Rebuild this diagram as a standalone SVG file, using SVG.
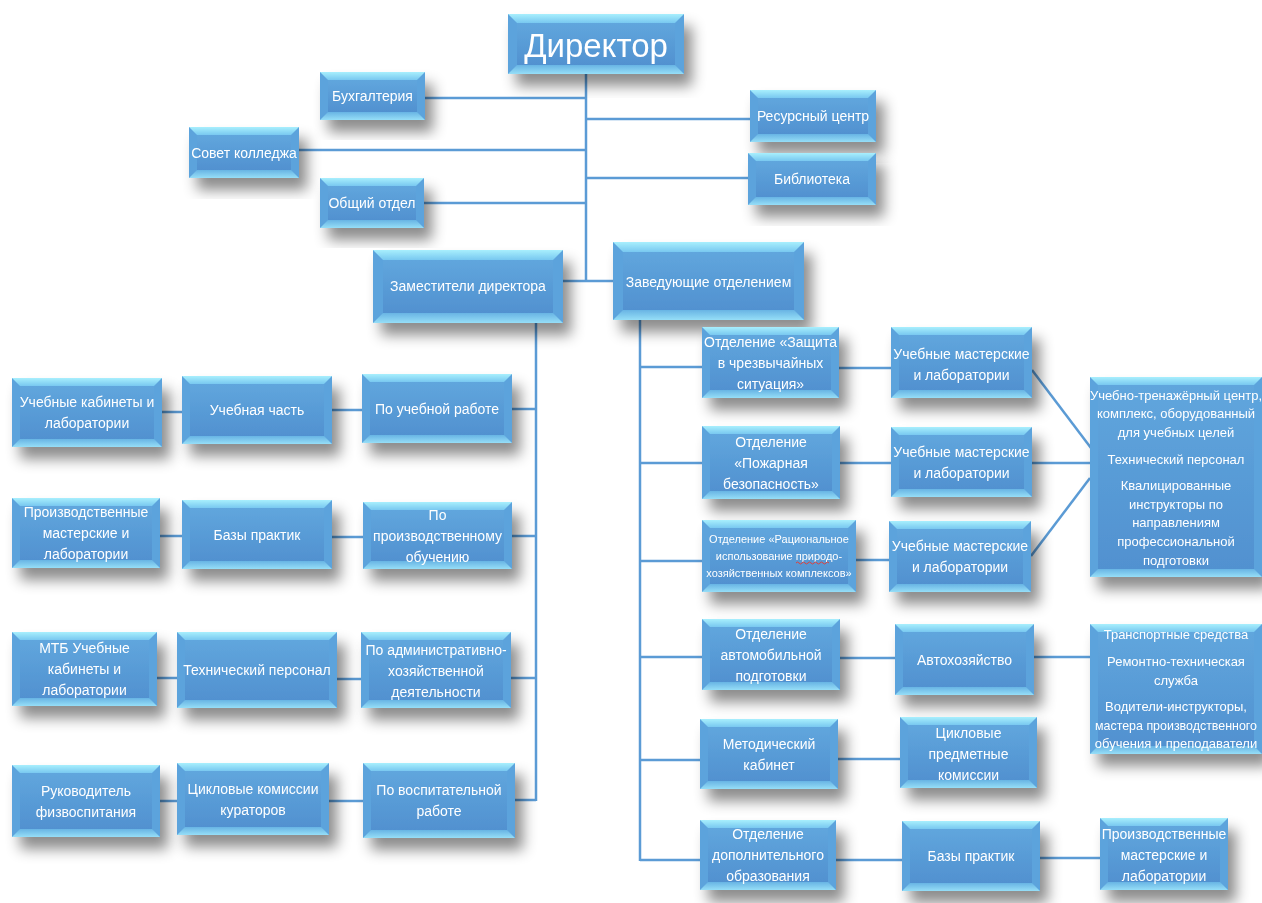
<svg xmlns="http://www.w3.org/2000/svg" width="1262" height="903" viewBox="0 0 1262 903">
<defs>
<filter id="sh" x="-20%" y="-20%" width="150%" height="160%">
<feDropShadow dx="8" dy="12" stdDeviation="7" flood-color="#000" flood-opacity="0.45"/>
</filter>
<linearGradient id="gf" x1="0" y1="0" x2="0" y2="1">
<stop offset="0" stop-color="#60a6dd"/>
<stop offset="1" stop-color="#5191d0"/>
</linearGradient>
<linearGradient id="gt" x1="0" y1="0" x2="0" y2="1">
<stop offset="0" stop-color="#a8effd"/>
<stop offset="1" stop-color="#78c8f0"/>
</linearGradient>
<linearGradient id="gb" x1="0" y1="0" x2="0" y2="1">
<stop offset="0" stop-color="#68b4e4"/>
<stop offset="1" stop-color="#96def7"/>
</linearGradient>
</defs>
<style>
.n{filter:url(#sh)}
.s{fill:#5ba3dc}
.t{fill:url(#gt)}
.b{fill:url(#gb)}
.f{fill:url(#gf)}
text{font-family:"Liberation Sans","Noto Sans",Arial,sans-serif;fill:#fff;font-size:14px;text-anchor:middle}
.sm{font-size:13px}
.xs{font-size:11px}
.big{font-size:33px}
.c line{stroke:#5b9bd5;stroke-width:2.5;fill:none}
</style>
<rect width="1262" height="903" fill="#fff"/>
<g id="connectors" class="c">
<line x1="586" y1="74" x2="586" y2="282"/>
<line x1="425" y1="98" x2="586" y2="98"/>
<line x1="299" y1="150" x2="586" y2="150"/>
<line x1="424" y1="203" x2="586" y2="203"/>
<line x1="586" y1="119" x2="750" y2="119"/>
<line x1="586" y1="178" x2="748" y2="178"/>
<line x1="563" y1="281" x2="613" y2="281"/>
<line x1="536" y1="323" x2="536" y2="801"/>
<line x1="162" y1="412" x2="182" y2="412"/>
<line x1="332" y1="410" x2="362" y2="410"/>
<line x1="512" y1="409" x2="536" y2="409"/>
<line x1="160" y1="536" x2="182" y2="536"/>
<line x1="332" y1="537" x2="363" y2="537"/>
<line x1="512" y1="536" x2="536" y2="536"/>
<line x1="157" y1="678" x2="177" y2="678"/>
<line x1="337" y1="679" x2="361" y2="679"/>
<line x1="511" y1="678" x2="536" y2="678"/>
<line x1="160" y1="801" x2="177" y2="801"/>
<line x1="329" y1="801" x2="363" y2="801"/>
<line x1="515" y1="800" x2="536" y2="800"/>
<line x1="640" y1="320" x2="640" y2="861"/>
<line x1="640" y1="367" x2="702" y2="367"/>
<line x1="640" y1="463" x2="702" y2="463"/>
<line x1="640" y1="561" x2="702" y2="561"/>
<line x1="640" y1="657" x2="702" y2="657"/>
<line x1="640" y1="760" x2="700" y2="760"/>
<line x1="640" y1="860" x2="700" y2="860"/>
<line x1="839" y1="368" x2="891" y2="368"/>
<line x1="840" y1="463" x2="891" y2="463"/>
<line x1="856" y1="560" x2="889" y2="560"/>
<line x1="840" y1="658" x2="895" y2="658"/>
<line x1="838" y1="759" x2="900" y2="759"/>
<line x1="836" y1="860" x2="902" y2="860"/>
<line x1="1032" y1="370" x2="1091" y2="448"/>
<line x1="1032" y1="463" x2="1090" y2="463"/>
<line x1="1031" y1="556" x2="1090" y2="478"/>
<line x1="1034" y1="657" x2="1090" y2="657"/>
<line x1="1040" y1="858" x2="1100" y2="858"/>
</g>

<g id="n-director" class="n"><rect class="s" x="508" y="14" width="176" height="60"/><polygon class="t" points="508,14 684,14 675,23 517,23"/><polygon class="b" points="508,74 684,74 675,65 517,65"/><rect class="f" x="517" y="23" width="158" height="42"/><text class="big" x="596" y="57">Директор</text></g>
<g id="n-buh" class="n"><rect class="s" x="320" y="72" width="105" height="48"/><polygon class="t" points="320,72 425,72 417,80 328,80"/><polygon class="b" points="320,120 425,120 417,112 328,112"/><rect class="f" x="328" y="80" width="89" height="32"/><text x="372.5" y="101">Бухгалтерия</text></g>
<g id="n-sovet" class="n"><rect class="s" x="189" y="127" width="110" height="51"/><polygon class="t" points="189,127 299,127 291,135 197,135"/><polygon class="b" points="189,178 299,178 291,170 197,170"/><rect class="f" x="197" y="135" width="94" height="35"/><text x="244" y="157.5">Совет колледжа</text></g>
<g id="n-obsh" class="n"><rect class="s" x="320" y="178" width="104" height="50"/><polygon class="t" points="320,178 424,178 416,186 328,186"/><polygon class="b" points="320,228 424,228 416,220 328,220"/><rect class="f" x="328" y="186" width="88" height="34"/><text x="372" y="208">Общий отдел</text></g>
<g id="n-res" class="n"><rect class="s" x="750" y="90" width="126" height="52"/><polygon class="t" points="750,90 876,90 868,98 758,98"/><polygon class="b" points="750,142 876,142 868,134 758,134"/><rect class="f" x="758" y="98" width="110" height="36"/><text x="813" y="121">Ресурсный центр</text></g>
<g id="n-bib" class="n"><rect class="s" x="748" y="153" width="128" height="52"/><polygon class="t" points="748,153 876,153 868,161 756,161"/><polygon class="b" points="748,205 876,205 868,197 756,197"/><rect class="f" x="756" y="161" width="112" height="36"/><text x="812" y="184">Библиотека</text></g>
<g id="n-zam" class="n"><rect class="s" x="373" y="250" width="190" height="73"/><polygon class="t" points="373,250 563,250 553,260 383,260"/><polygon class="b" points="373,323 563,323 553,313 383,313"/><rect class="f" x="383" y="260" width="170" height="53"/><text x="468" y="291">Заместители директора</text></g>
<g id="n-zav" class="n"><rect class="s" x="613" y="242" width="191" height="78"/><polygon class="t" points="613,242 804,242 794,252 623,252"/><polygon class="b" points="613,320 804,320 794,310 623,310"/><rect class="f" x="623" y="252" width="171" height="58"/><text x="708.5" y="287">Заведующие отделением</text></g>

<g id="n-ukl" class="n"><rect class="s" x="12" y="378" width="150" height="69"/><polygon class="t" points="12,378 162,378 154,386 20,386"/><polygon class="b" points="12,447 162,447 154,439 20,439"/><rect class="f" x="20" y="386" width="134" height="53"/><text x="87" y="407">Учебные кабинеты и</text><text x="87" y="428">лаборатории</text></g>
<g id="n-uch" class="n"><rect class="s" x="182" y="376" width="150" height="68"/><polygon class="t" points="182,376 332,376 324,384 190,384"/><polygon class="b" points="182,444 332,444 324,436 190,436"/><rect class="f" x="190" y="384" width="134" height="52"/><text x="257" y="415">Учебная часть</text></g>
<g id="n-pur" class="n"><rect class="s" x="362" y="374" width="150" height="69"/><polygon class="t" points="362,374 512,374 504,382 370,382"/><polygon class="b" points="362,443 512,443 504,435 370,435"/><rect class="f" x="370" y="382" width="134" height="53"/><text x="437" y="413.5">По учебной работе</text></g>

<g id="n-pml" class="n"><rect class="s" x="12" y="498" width="148" height="70"/><polygon class="t" points="12,498 160,498 152,506 20,506"/><polygon class="b" points="12,568 160,568 152,560 20,560"/><rect class="f" x="20" y="506" width="132" height="54"/><text x="86" y="517">Производственные</text><text x="86" y="538">мастерские и</text><text x="86" y="559">лаборатории</text></g>
<g id="n-bp1" class="n"><rect class="s" x="182" y="500" width="150" height="69"/><polygon class="t" points="182,500 332,500 324,508 190,508"/><polygon class="b" points="182,569 332,569 324,561 190,561"/><rect class="f" x="190" y="508" width="134" height="53"/><text x="257" y="539.5">Базы практик</text></g>
<g id="n-ppo" class="n"><rect class="s" x="363" y="502" width="149" height="67"/><polygon class="t" points="363,502 512,502 504,510 371,510"/><polygon class="b" points="363,569 512,569 504,561 371,561"/><rect class="f" x="371" y="510" width="133" height="51"/><text x="437.5" y="520">По</text><text x="437.5" y="541">производственному</text><text x="437.5" y="562">обучению</text></g>

<g id="n-mtb" class="n"><rect class="s" x="12" y="632" width="145" height="74"/><polygon class="t" points="12,632 157,632 149,640 20,640"/><polygon class="b" points="12,706 157,706 149,698 20,698"/><rect class="f" x="20" y="640" width="129" height="58"/><text x="84.5" y="653">МТБ Учебные</text><text x="84.5" y="674">кабинеты и</text><text x="84.5" y="695">лаборатории</text></g>
<g id="n-tp1" class="n"><rect class="s" x="177" y="632" width="160" height="76"/><polygon class="t" points="177,632 337,632 329,640 185,640"/><polygon class="b" points="177,708 337,708 329,700 185,700"/><rect class="f" x="185" y="640" width="144" height="60"/><text x="257" y="675">Технический персонал</text></g>
<g id="n-pah" class="n"><rect class="s" x="361" y="632" width="150" height="76"/><polygon class="t" points="361,632 511,632 503,640 369,640"/><polygon class="b" points="361,708 511,708 503,700 369,700"/><rect class="f" x="369" y="640" width="134" height="60"/><text x="436" y="655">По административно-</text><text x="436" y="676">хозяйственной</text><text x="436" y="697">деятельности</text></g>

<g id="n-ruk" class="n"><rect class="s" x="12" y="765" width="148" height="72"/><polygon class="t" points="12,765 160,765 152,773 20,773"/><polygon class="b" points="12,837 160,837 152,829 20,829"/><rect class="f" x="20" y="773" width="132" height="56"/><text x="86" y="796">Руководитель</text><text x="86" y="817">физвоспитания</text></g>
<g id="n-ckk" class="n"><rect class="s" x="177" y="763" width="152" height="72"/><polygon class="t" points="177,763 329,763 321,771 185,771"/><polygon class="b" points="177,835 329,835 321,827 185,827"/><rect class="f" x="185" y="771" width="136" height="56"/><text x="253" y="794">Цикловые комиссии</text><text x="253" y="815">кураторов</text></g>
<g id="n-pvr" class="n"><rect class="s" x="363" y="763" width="152" height="75"/><polygon class="t" points="363,763 515,763 507,771 371,771"/><polygon class="b" points="363,838 515,838 507,830 371,830"/><rect class="f" x="371" y="771" width="136" height="59"/><text x="439" y="795">По воспитательной</text><text x="439" y="816">работе</text></g>

<g id="n-zch" class="n"><rect class="s" x="702" y="327" width="137" height="71"/><polygon class="t" points="702,327 839,327 831,335 710,335"/><polygon class="b" points="702,398 839,398 831,390 710,390"/><rect class="f" x="710" y="335" width="121" height="55"/><text x="770.5" y="347">Отделение «Защита</text><text x="770.5" y="368">в чрезвычайных</text><text x="770.5" y="389">ситуация»</text></g>
<g id="n-pb" class="n"><rect class="s" x="702" y="426" width="138" height="73"/><polygon class="t" points="702,426 840,426 832,434 710,434"/><polygon class="b" points="702,499 840,499 832,491 710,491"/><rect class="f" x="710" y="434" width="122" height="57"/><text x="771" y="447">Отделение</text><text x="771" y="468">«Пожарная</text><text x="771" y="489">безопасность»</text></g>
<g id="n-rac" class="n"><rect class="s" x="702" y="520" width="154" height="72"/><polygon class="t" points="702,520 856,520 848,528 710,528"/><polygon class="b" points="702,592 856,592 848,584 710,584"/><rect class="f" x="710" y="528" width="138" height="56"/><text class="xs" x="779" y="543">Отделение «Рациональное</text><text class="xs" x="779" y="560">использование природо-</text><text class="xs" x="779" y="577">хозяйственных комплексов»</text><path d="M796,563 q1.5,-2 3,0 t3,0 t3,0 t3,0 t3,0 t3,0 t3,0 t3,0 t3,0 t3,0 t3,0" stroke="#e0403a" stroke-width="1" fill="none"/></g>
<g id="n-avt" class="n"><rect class="s" x="702" y="619" width="138" height="71"/><polygon class="t" points="702,619 840,619 832,627 710,627"/><polygon class="b" points="702,690 840,690 832,682 710,682"/><rect class="f" x="710" y="627" width="122" height="55"/><text x="771" y="639">Отделение</text><text x="771" y="660">автомобильной</text><text x="771" y="681">подготовки</text></g>
<g id="n-met" class="n"><rect class="s" x="700" y="719" width="138" height="70"/><polygon class="t" points="700,719 838,719 830,727 708,727"/><polygon class="b" points="700,789 838,789 830,781 708,781"/><rect class="f" x="708" y="727" width="122" height="54"/><text x="769" y="749">Методический</text><text x="769" y="770">кабинет</text></g>
<g id="n-dop" class="n"><rect class="s" x="700" y="820" width="136" height="70"/><polygon class="t" points="700,820 836,820 828,828 708,828"/><polygon class="b" points="700,890 836,890 828,882 708,882"/><rect class="f" x="708" y="828" width="120" height="54"/><text x="768" y="839">Отделение</text><text x="768" y="860">дополнительного</text><text x="768" y="881">образования</text></g>

<g id="n-um1" class="n"><rect class="s" x="891" y="327" width="141" height="71"/><polygon class="t" points="891,327 1032,327 1024,335 899,335"/><polygon class="b" points="891,398 1032,398 1024,390 899,390"/><rect class="f" x="899" y="335" width="125" height="55"/><text x="961.5" y="359">Учебные мастерские</text><text x="961.5" y="380">и лаборатории</text></g>
<g id="n-um2" class="n"><rect class="s" x="891" y="427" width="141" height="70"/><polygon class="t" points="891,427 1032,427 1024,435 899,435"/><polygon class="b" points="891,497 1032,497 1024,489 899,489"/><rect class="f" x="899" y="435" width="125" height="54"/><text x="961.5" y="457">Учебные мастерские</text><text x="961.5" y="478">и лаборатории</text></g>
<g id="n-um3" class="n"><rect class="s" x="889" y="521" width="142" height="71"/><polygon class="t" points="889,521 1031,521 1023,529 897,529"/><polygon class="b" points="889,592 1031,592 1023,584 897,584"/><rect class="f" x="897" y="529" width="126" height="55"/><text x="960" y="551">Учебные мастерские</text><text x="960" y="572">и лаборатории</text></g>
<g id="n-ahz" class="n"><rect class="s" x="895" y="624" width="139" height="71"/><polygon class="t" points="895,624 1034,624 1026,632 903,632"/><polygon class="b" points="895,695 1034,695 1026,687 903,687"/><rect class="f" x="903" y="632" width="123" height="55"/><text x="964.5" y="665">Автохозяйство</text></g>
<g id="n-cpk" class="n"><rect class="s" x="900" y="717" width="137" height="71"/><polygon class="t" points="900,717 1037,717 1029,725 908,725"/><polygon class="b" points="900,788 1037,788 1029,780 908,780"/><rect class="f" x="908" y="725" width="121" height="55"/><text x="968.5" y="738">Цикловые</text><text x="968.5" y="759">предметные</text><text x="968.5" y="780">комиссии</text></g>
<g id="n-bp2" class="n"><rect class="s" x="902" y="821" width="138" height="70"/><polygon class="t" points="902,821 1040,821 1032,829 910,829"/><polygon class="b" points="902,891 1040,891 1032,883 910,883"/><rect class="f" x="910" y="829" width="122" height="54"/><text x="971" y="861">Базы практик</text></g>

<g id="n-utc" class="n"><rect class="s" x="1090" y="377" width="172" height="200"/><polygon class="t" points="1090,377 1262,377 1254,385 1098,385"/><polygon class="b" points="1090,577 1262,577 1254,569 1098,569"/><rect class="f" x="1098" y="385" width="156" height="184"/><text class="sm" x="1176" y="400">Учебно-тренажёрный центр,</text><text class="sm" x="1176" y="418">комплекс, оборудованный</text><text class="sm" x="1176" y="437">для учебных целей</text><text class="sm" x="1176" y="464">Технический персонал</text><text class="sm" x="1176" y="490">Квалицированные</text><text class="sm" x="1176" y="509">инструкторы по</text><text class="sm" x="1176" y="527">направлениям</text><text class="sm" x="1176" y="546">профессиональной</text><text class="sm" x="1176" y="565">подготовки</text></g>
<g id="n-trs" class="n"><rect class="s" x="1090" y="624" width="172" height="130"/><polygon class="t" points="1090,624 1262,624 1254,632 1098,632"/><polygon class="b" points="1090,754 1262,754 1254,746 1098,746"/><rect class="f" x="1098" y="632" width="156" height="114"/><text class="sm" x="1176" y="639">Транспортные средства</text><text class="sm" x="1176" y="666">Ремонтно-техническая</text><text class="sm" x="1176" y="685">служба</text><text class="sm" x="1176" y="711">Водители-инструкторы,</text><text class="sm" x="1176" y="730" textLength="162" lengthAdjust="spacingAndGlyphs">мастера производственного</text><text class="sm" x="1176" y="748">обучения и преподаватели</text></g>
<g id="n-pml2" class="n"><rect class="s" x="1100" y="818" width="128" height="72"/><polygon class="t" points="1100,818 1228,818 1220,826 1108,826"/><polygon class="b" points="1100,890 1228,890 1220,882 1108,882"/><rect class="f" x="1108" y="826" width="112" height="56"/><text x="1164" y="839">Производственные</text><text x="1164" y="860">мастерские и</text><text x="1164" y="881">лаборатории</text></g>
</svg>
